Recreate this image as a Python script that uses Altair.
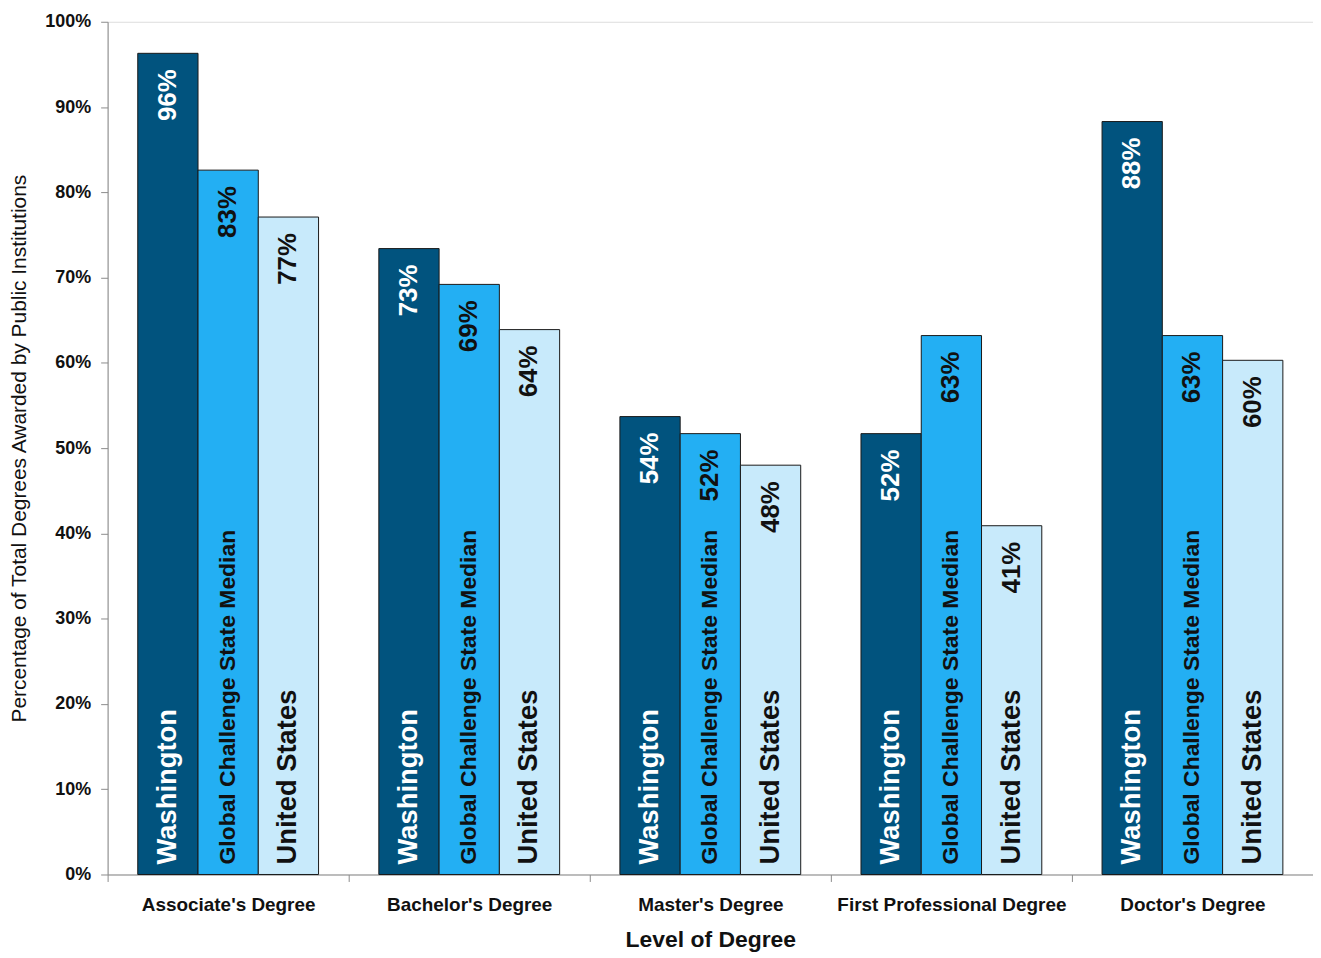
import altair as alt
import pandas as pd

degrees = ["Associate's Degree", "Bachelor's Degree", "Master's Degree",
           "First Professional Degree", "Doctor's Degree"]
series = ["Washington", "Global Challenge State Median", "United States"]
washington = [0.963, 0.734, 0.537, 0.517, 0.883]
gcs_median = [0.826, 0.692, 0.517, 0.632, 0.632]
united_states = [0.771, 0.639, 0.480, 0.409, 0.603]
bar_colors = ["#01537E", "#23AFF3", "#C8EAFB"]
text_colors = ["#FFFFFF", "#111111", "#111111"]
name_sizes = [27.5, 23, 27.5]
y_ticks = [0.0, 0.1, 0.2, 0.3, 0.4, 0.5, 0.6, 0.7, 0.8, 0.9, 1.0]

rows = []
for i, d in enumerate(degrees):
    for s, vals in zip(series, [washington, gcs_median, united_states]):
        rows.append({"degree": d, "series": s, "value": vals[i]})
df = pd.DataFrame(rows)

FONT = "Liberation Sans"

x_enc = alt.X("degree:N", sort=degrees,
              scale=alt.Scale(paddingInner=0, paddingOuter=0),
              axis=alt.Axis(title="Level of Degree", labelAngle=0, tickBand="extent",
                            domainColor="#8c8c8c", tickColor="#8c8c8c", tickSize=7,
                            labelFont=FONT, labelFontSize=19, labelFontWeight="bold",
                            labelColor="#111111", labelPadding=14, labelLimit=0,
                            titleFont=FONT, titleFontSize=23, titleFontWeight="bold",
                            titleColor="#111111", titlePadding=14))
xo_enc = alt.XOffset("series:N", sort=series,
                     scale=alt.Scale(paddingInner=0, paddingOuter=0.5))
y_enc = alt.Y("value:Q",
              scale=alt.Scale(domain=[0, 1]),
              axis=alt.Axis(title="Percentage of Total Degrees Awarded by Public Institutions",
                            values=y_ticks, format=".0%", grid=False,
                            domainColor="#8c8c8c", tickColor="#8c8c8c", tickSize=7,
                            labelFont=FONT, labelFontSize=18, labelFontWeight="bold",
                            labelColor="#111111", labelPadding=10,
                            titleFont=FONT, titleFontSize=21, titleFontWeight="normal",
                            titleColor="#111111", titlePadding=15))

base = alt.Chart(df).encode(x=x_enc, xOffset=xo_enc)

bars = base.mark_bar(stroke="#1a1a1a", strokeWidth=1).encode(
    y=y_enc,
    color=alt.Color("series:N", sort=series,
                    scale=alt.Scale(domain=series, range=bar_colors), legend=None),
)

layers = [bars]
for s, tc, fs in zip(series, text_colors, name_sizes):
    sub = base.transform_filter(alt.datum.series == s)
    layers.append(
        sub.mark_text(angle=270, align="right", baseline="middle", dx=-16,
                      font=FONT, fontSize=26, fontWeight="bold", color=tc).encode(
            y="value:Q",
            text=alt.Text("value:Q", format=".0%"),
        )
    )
    layers.append(
        sub.mark_text(angle=270, align="left", baseline="middle", dx=10,
                      font=FONT, fontSize=fs, fontWeight="bold", color=tc).encode(
            y=alt.datum(0),
            text="series:N",
        )
    )

chart = alt.layer(*layers).properties(
    width=1210, height=856,
    autosize=alt.AutoSizeParams(type="none"),
    padding={"left": 100, "top": 12, "right": 0, "bottom": 80},
).configure_view(stroke=None).configure(background="white")

chart.save("out.html", embed_options={"renderer": "svg", "actions": False})
